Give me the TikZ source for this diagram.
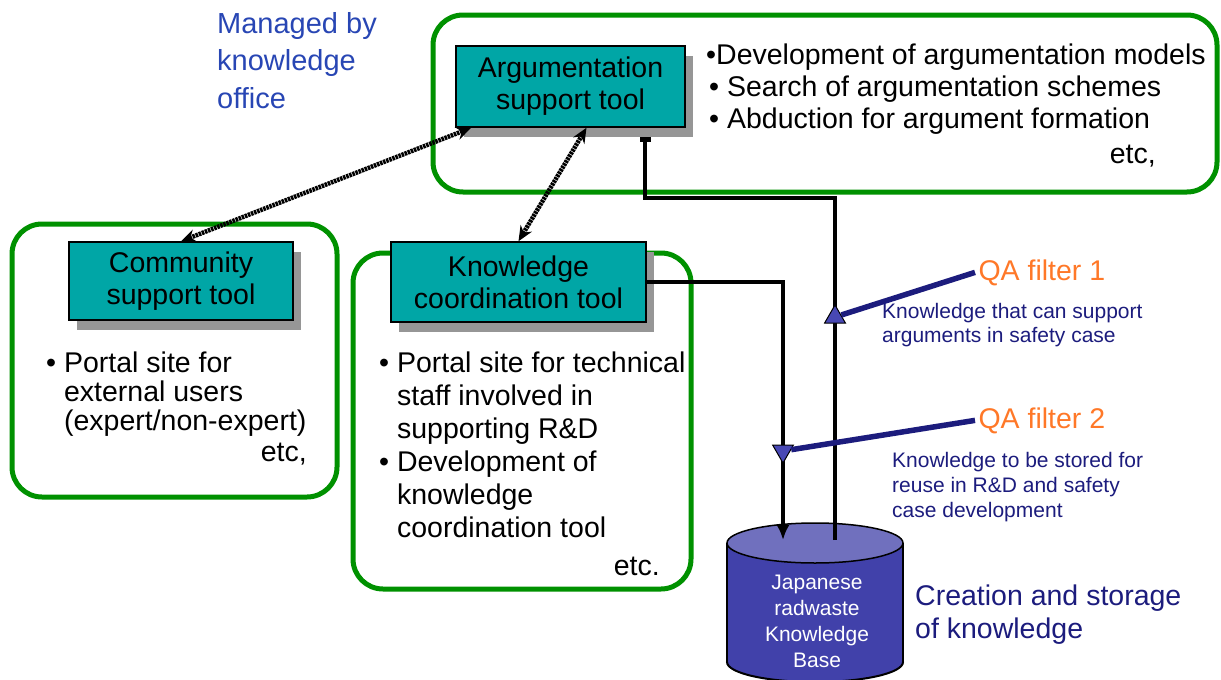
\documentclass[tikz,border=0pt]{standalone}
\usepackage{fontspec}
\setmainfont{Liberation Sans}
\usetikzlibrary{shapes.geometric, arrows.meta, shadows, positioning}

\definecolor{zonegreen}{RGB}{0,145,0}
\definecolor{tooltea}{RGB}{0,166,166}
\definecolor{shadegrey}{RGB}{150,150,150}
\definecolor{navytext}{RGB}{28,28,125}
\definecolor{officeblue}{RGB}{40,70,180}
\definecolor{qaorange}{RGB}{255,120,40}
\definecolor{kbbody}{RGB}{65,65,170}
\definecolor{kbtop}{RGB}{112,112,190}
\definecolor{filterblue}{RGB}{72,72,180}

\newcommand{\bigfont}{\fontsize{28.5}{32}\selectfont}

\begin{document}
\begin{tikzpicture}[x=1pt, y=-1pt,
	zone/.style={draw=zonegreen, line width=5pt, rounded corners=30pt},
	tool/.style={draw=black, line width=1.5pt, fill=tooltea, align=center,
		inner sep=0pt, font=\bigfont,
		drop shadow={shadow xshift=8pt, shadow yshift=-10pt, fill=shadegrey, opacity=1}},
	notes/.style={align=left, inner sep=0pt, font=\bigfont},
	link/.style={draw=black, line width=4pt},
	dbl/.style={draw=black, line width=4.5pt, dash pattern=on 2.5pt off 0.8pt,
		{Stealth[length=15pt,width=13pt]}-{Stealth[length=15pt,width=13pt]}},
	filter/.style={regular polygon, regular polygon sides=3, fill=filterblue,
		draw=black, line width=1pt, inner sep=0pt, minimum size=24pt},
	sieve/.style={draw=navytext, line width=5.5pt}]
	\useasboundingbox (0,0) rectangle (1221,680);

	% green areas
	\draw[zone] (433,15) rectangle (1217,192);
	\draw[zone] (12,224) rectangle (337,497);
	\draw[zone] (353,253) rectangle (691,589);

	% tools
	\node[tool, minimum width=229pt, minimum height=81pt] (arg) at (570.5,86.5)
		{Argumentation\\support tool};
	\node[tool, minimum width=224pt, minimum height=78pt] (comm) at (181,281)
		{Community\\support tool};
	\node[tool, minimum width=255pt, minimum height=80pt] (kcoord) at (518.5,282)
		{Knowledge\\coordination tool};

	% texts, anchored at the baseline of their last line
	\node[notes, text=officeblue, font=\fontsize{29}{37.5}\selectfont, anchor=base west]
		(office) at (217,108) {Managed by\\knowledge\\office};

	\node[notes, anchor=base west] (argnotes) at (706,128)
		{•Development of argumentation models\\
		\hspace{3pt}• Search of argumentation schemes\\
		\hspace{3pt}• Abduction for argument formation};
	\node[notes, anchor=base east] (argetc) at (1156,163) {etc,};

	\node[notes, font=\fontsize{28.5}{29}\selectfont, anchor=base west] (commnotes) at (46,430)
		{• Portal site for\\
		\phantom{• }external users\\
		\phantom{• }(expert/non-expert)};
	\node[notes, anchor=base east] (commetc) at (307,461) {etc,};

	\node[notes, font=\fontsize{28.5}{33}\selectfont, anchor=base west] (kcnotes) at (379,537)
		{• Portal site for technical\\
		\phantom{• }staff involved in\\
		\phantom{• }supporting R\&D\\
		• Development of\\
		\phantom{• }knowledge\\
		\phantom{• }coordination tool};
	\node[notes, anchor=base east] (kcetc) at (660,575) {etc.};

	% knowledge base
	\filldraw[fill=kbbody, draw=black, line width=2pt] (815,662) ellipse [x radius=88, y radius=20];
	\fill[kbbody] (727,543) rectangle (903,662);
	\draw[line width=2pt] (727,543) -- (727,662) (903,543) -- (903,662);
	\filldraw[fill=kbtop, draw=black, line width=1.5pt] (815,543) ellipse [x radius=88, y radius=20];
	\node[align=center, text=white, font=\fontsize{21}{25.7}\selectfont, inner sep=0pt, anchor=base] (kb) at (817,667)
		{Japanese\\radwaste\\Knowledge\\Base};
	\coordinate (kbup) at (835,540);
	\coordinate (kbdown) at (783,540);
	\coordinate (argport) at (645,137);

	% flows
	\draw[link, -{Rectangle[length=5pt,width=11pt]}] (kbup) -- ++(0,-342) -| (argport);
	\draw[link, -{Latex[length=15pt,width=13pt]}] (kcoord.east) -| (kbdown);
	\draw[dbl] (comm.north) -- ([xshift=16pt]arg.south west);
	\draw[dbl] (kcoord.north) -- ([xshift=16pt]arg.south);

	% QA filters
	\node[filter] (f1) at (835,317) {};
	\node[filter, shape border rotate=180] (f2) at (783,451) {};
	\node[anchor=base west, font=\bigfont, text=qaorange] (qa1) at (975,280) {QA filter 1};
	\node[anchor=base west, font=\bigfont, text=qaorange] (qa2) at (975,428) {QA filter 2};
	\draw[sieve] (qa1.west) -- (f1);
	\draw[sieve] (qa2.west) -- (f2);
	\node[notes, font=\fontsize{21}{24}\selectfont, text=navytext, anchor=base west] (qa1text) at (882,342)
		{Knowledge that can support\\arguments in safety case};
	\node[notes, font=\fontsize{21}{25}\selectfont, text=navytext, anchor=base west] (qa2text) at (892,517)
		{Knowledge to be stored for\\reuse in R\&D and safety\\case development};

	\node[notes, font=\fontsize{28.5}{33}\selectfont, text=navytext, anchor=base west] (store) at (915,638)
		{Creation and storage\\of knowledge};
\end{tikzpicture}
\end{document}
